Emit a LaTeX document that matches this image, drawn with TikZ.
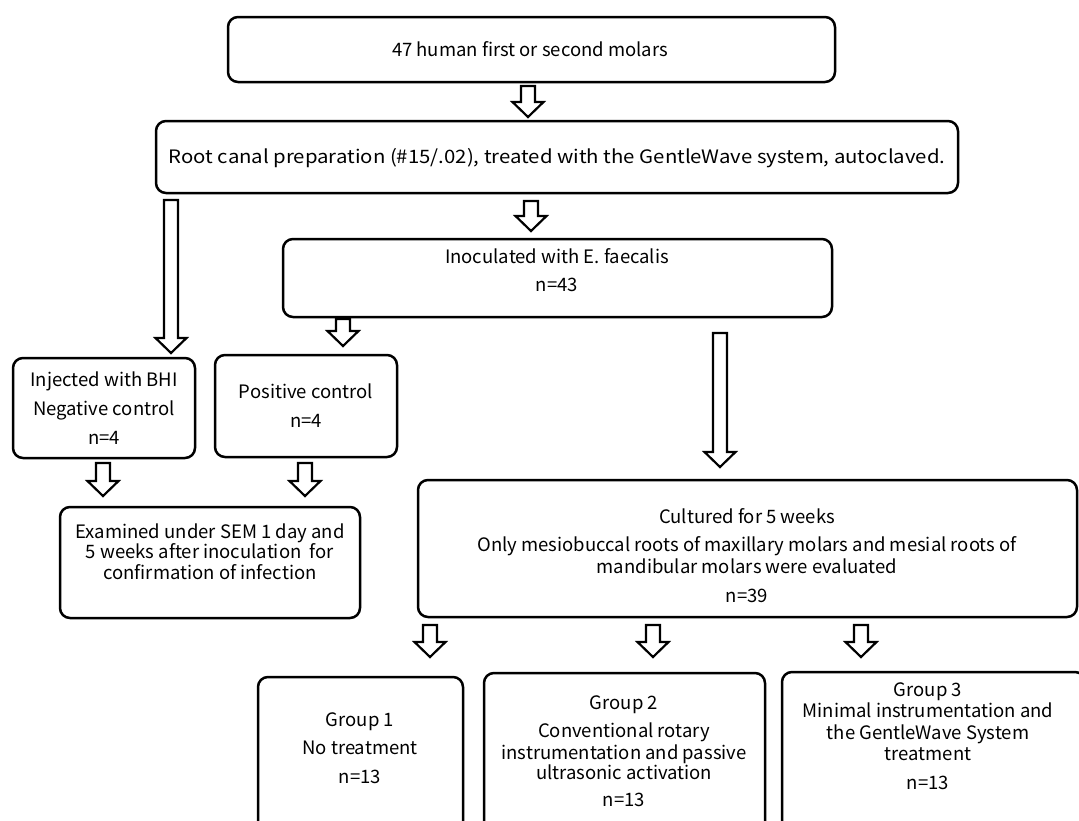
\documentclass[tikz,border=0pt]{standalone}
\usepackage{fontspec}
\usepackage{graphicx}
\setmainfont{Noto Sans CJK KR}
\begin{document}
\begin{tikzpicture}[x=1pt,y=-1pt,
  box/.style={draw, line width=2.5pt, rounded corners=10pt, inner sep=0pt},
  txt/.style={anchor=base, inner sep=0pt, font=\fontsize{18.5}{22}\selectfont},
  arrowline/.style={draw, line width=2.2pt, fill=white, line join=miter},
  pics/fatarrow/.style={code={
    \path[arrowline] (-7,0) -- (7,0) -- (7,{#1-15}) -- (15.5,{#1-15}) -- (0,#1)
      -- (-15.5,{#1-15}) -- (-7,{#1-15}) -- cycle;}}]
\fill[white] (0,0) rectangle (1079,820);
\useasboundingbox (0,0) rectangle (1079,820);

% boxes
\node[box, minimum width=607pt, minimum height=65pt] (b1) at (531.5,49.5) {};
\node[box, minimum width=802pt, minimum height=72pt] (b2) at (557,157) {};
\node[box, minimum width=549pt, minimum height=78pt] (b3) at (557.5,278) {};
\node[box, minimum width=182pt, minimum height=100pt] (b4) at (104,408) {};
\node[box, minimum width=182pt, minimum height=102pt] (b5) at (306,406) {};
\node[box, minimum width=300pt, minimum height=111pt] (b6) at (210,562.5) {};
\node[box, minimum width=659pt, minimum height=137pt] (b7) at (747.5,548.5) {};
\node[box, minimum width=205pt, minimum height=183pt] (g1) at (360.5,768.5) {};
\node[box, minimum width=281pt, minimum height=187pt] (g2) at (624.5,766.5) {};
\node[box, minimum width=303pt, minimum height=188pt] (g3) at (933.5,766) {};

% texts
\node[txt] (t1) at (530,56) {47 human first or second molars};
\node[txt] (t2) at (557,163) {\scalebox{1.1}[1]{Root canal preparation (\#15/.02), treated with the GentleWave system, autoclaved.}};
\node[txt] (t3a) at (557,263) {Inoculated with E. faecalis};
\node[txt] (t3b) at (557,291) {n=43};
\node[txt] (t4a) at (104,386) {Injected with BHI};
\node[txt] (t4b) at (104,415) {Negative control};
\node[txt] (t4c) at (104,444) {n=4};
\node[txt] (t5a) at (306,398) {Positive control};
\node[txt] (t5b) at (306,427) {n=4};
\node[txt] (t6a) at (210,538) {Examined under SEM 1 day and};
\node[txt] (t6b) at (210,558) {5 weeks after inoculation\ \ for};
\node[txt] (t6c) at (210,579) {confirmation of infection};
\node[txt] (t7a) at (747,523) {Cultured for 5 weeks};
\node[txt] (t7b) at (747,551) {Only mesiobuccal roots of maxillary molars and mesial roots of};
\node[txt] (t7c) at (747,573) {mandibular molars were evaluated};
\node[txt] (t7d) at (747,602) {n=39};
\node[txt] (g1a) at (360,726) {Group 1};
\node[txt] (g1b) at (360,754) {No treatment};
\node[txt] (g1c) at (360,783) {n=13};
\node[txt] (g2a) at (624,709) {Group 2};
\node[txt] (g2b) at (624,737) {Conventional rotary};
\node[txt] (g2c) at (624,759) {instrumentation and passive};
\node[txt] (g2d) at (624,779) {ultrasonic activation};
\node[txt] (g2e) at (624,806) {n=13};
\node[txt] (g3a) at (928,696) {Group 3};
\node[txt] (g3b) at (928,717) {Minimal instrumentation and};
\node[txt] (g3c) at (928,739) {the GentleWave System};
\node[txt] (g3d) at (928,760) {treatment};
\node[txt] (g3e) at (928,789) {n=13};

% block arrows
\pic (a1) at (528,86) {fatarrow=31};
\pic (a2) at (531,201) {fatarrow=30};
\pic (aL) at (171,200) {fatarrow=153};
\pic (a3) at (343,319) {fatarrow=27};
\pic (aR) at (720,333) {fatarrow=134};
\pic (a4) at (103,463) {fatarrow=33};
\pic (a5) at (305,463) {fatarrow=33};
\pic (a6) at (430,625) {fatarrow=32};
\pic (a7) at (653,625) {fatarrow=32};
\pic (a8) at (861,625) {fatarrow=32};
\end{tikzpicture}
\end{document}
